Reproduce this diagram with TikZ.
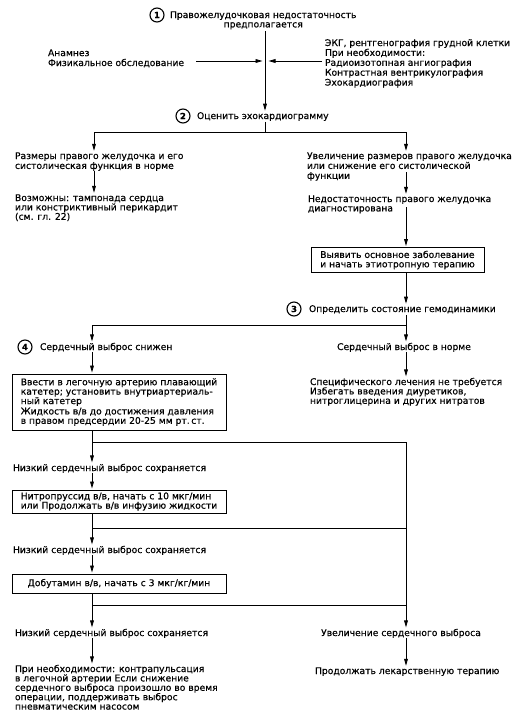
\documentclass[tikz,border=0pt]{standalone}
\usepackage{fontspec}
\setmainfont{DejaVu Sans}[FakeBold=0.5]
\usetikzlibrary{arrows.meta,calc}
\begin{document}
\begin{tikzpicture}[x=1pt,y=-1pt,
  every node/.style={font=\fontsize{9.2}{9.4}\selectfont, inner sep=0pt, outer sep=0pt},
  txt/.style={align=left, anchor=base west},
  loose/.style={font=\fontsize{9.2}{9.9}\selectfont},
  num/.style={circle, draw, line width=1.1pt, minimum size=14pt, font=\fontsize{8.5}{8.5}\selectfont\bfseries},
  box/.style={draw, line width=0.9pt, rectangle, align=left},
  arr/.style={line width=0.8pt, -{Triangle[length=7pt,width=3.8pt]}, shorten >=1.5pt},
  ln/.style={line width=0.8pt}]
\useasboundingbox (0,0) rectangle (524,716);
% column coordinates
\coordinate (k1) at (265,0);
\coordinate (ym) at (0,61);
\coordinate (sp1) at (265,132);
\coordinate (L1) at (94,132);
\coordinate (R1) at (406,132);
\coordinate (sp2) at (406,325);
\coordinate (L2) at (92,325);
\coordinate (sp3) at (92,442);
\coordinate (R3) at (406,442);
\coordinate (sp4) at (92,528);
\coordinate (R4) at (406,528);
\coordinate (sp5) at (92,605);
\coordinate (R5) at (406,605);

% nodes (base = baseline of the last line)
\node[num] (c1) at (157,15) {1};
\node[txt, align=center] (t1) at (170,27.4) {Правожелудочковая недостаточность\\предполагается};
\node[txt, loose] (anam) at (48,66) {Анамнез\\Физикальное обследование};
\node[txt, loose] (ekg) at (325,85.6) {ЭКГ, рентгенография грудной клетки\\При необходимости:\\Радиоизотопная ангиография\\Контрастная вентрикулография\\Эхокардиография};
\node[num] (c2) at (183,116) {2};
\node[txt] (t2) at (197,119) {Оценить эхокардиограмму};

\node[txt, loose] (lsize) at (15,168.9) {Размеры правого желудочка и его\\систолическая функция в норме};
\node[txt] (lposs) at (15,219.8) {Возможны: тампонада сердца\\или констриктивный перикардит\\(см. гл. 22)};
\node[txt, loose] (rsize) at (307,178.8) {Увеличение размеров правого желудочка\\или снижение его систолической\\функции};
\node[txt] (rdiag) at (308,211.4) {Недостаточность правого желудочка\\диагностирована};
\node[box, minimum width=173pt, minimum height=25pt] (box1) at (397.5,260) {Выявить основное заболевание\\и начать этиотропную терапию};

\node[num] (c3) at (294,309) {3};
\node[txt] (t3) at (309,312) {Определить состояние гемодинамики};
\node[num] (c4) at (25,347) {4};
\node[txt] (t4) at (40,350) {Сердечный выброс снижен};
\node[anchor=base] (norm) at (404,350) {Сердечный выброс в норме};

\node[box, minimum width=214pt, minimum height=56pt] (box2) at (119,402) {Ввести в легочную артерию плавающий\\катетер; установить внутриартериаль-\\ный катетер\\[1pt]Жидкость в/в до достижения давления\\в правом предсердии 20-25 мм рт.\,ст.};
\node[txt] (spec) at (310,403.8) {Специфического лечения не требуется\\Избегать введения диуретиков,\\нитроглицерина и других нитратов};

\node[txt] (low1) at (13,471) {Низкий сердечный выброс сохраняется};
\node[box, minimum width=214pt, minimum height=23pt] (box3) at (119,501.5) {Нитропруссид в/в, начать с 10 мкг/мин\\или Продолжать в/в инфузию жидкости};
\node[txt] (low2) at (13,553) {Низкий сердечный выброс сохраняется};
\node[box, minimum width=214pt, minimum height=19pt] (box4) at (119,583.5) {Добутамин в/в, начать с 3 мкг/кг/мин};
\node[txt] (low3) at (15,636) {Низкий сердечный выброс сохраняется};
\node[anchor=base] (incr) at (401,636) {Увеличение сердечного выброса};
\node[txt] (need) at (15,709.6) {При необходимости: контрапульсация\\в легочной артерии Если снижение\\сердечного выброса произошло во время\\операции, поддерживать выброс\\пневматическим насосом};
\node[txt] (cont) at (315,674) {Продолжать лекарственную терапию};

% connectors
\draw[arr] ($(t1.south -| k1)+(0,2)$) -- (t2.north -| k1);
\draw[arr] ([xshift=12pt]anam.east |- ym) -- ([xshift=-1pt]k1 |- ym);
\draw[arr] ([xshift=-3pt]ekg.west |- ym) -- ([xshift=2pt]k1 |- ym);

\draw[ln] ($(t2.south -| k1)+(0,1)$) -- (sp1);
\draw[arr] (sp1) -- (L1) -- (lsize.north -| L1);
\draw[arr] (sp1) -- (R1) -- (rsize.north -| R1);
\draw[arr] (lsize.south -| L1) -- (lposs.north -| L1);
\draw[arr] ($(rsize.north -| R1)+(0,20)$) -- (rdiag.north -| R1);
\draw[arr] ($(rdiag.north -| R1)+(0,12)$) -- (box1.north -| R1);
\draw[arr] (box1.south -| R1) -- (t3.north -| R1);

\draw[arr] ($(t3.south -| R1)+(0,1)$) -- (norm.north -| R1);
\draw[arr] (sp2) -- (L2) -- (t4.north -| L2);
\draw[arr] (t4.south -| L2) -- (box2.north -| L2);
\draw[arr] (norm.south -| R1) -- (spec.north -| R1);

\draw[arr] (box2.south -| L2) -- (low1.north -| L2);
\draw[ln] (sp3) -- (R3);
\draw[arr] (R3) -- (incr.north -| R3);
\draw[arr] (low1.south -| L2) -- (box3.north -| L2);
\draw[arr] (box3.south -| L2) -- (low2.north -| L2);
\draw[ln] (sp4) -- (R4);
\draw[arr] (low2.south -| L2) -- (box4.north -| L2);
\draw[arr] (box4.south -| L2) -- (low3.north -| L2);
\draw[ln] (sp5) -- (R5);
\draw[arr] (low3.south -| L2) -- (need.north -| L2);
\draw[arr] (incr.south -| R3) -- (cont.north -| R3);
\end{tikzpicture}
\end{document}
